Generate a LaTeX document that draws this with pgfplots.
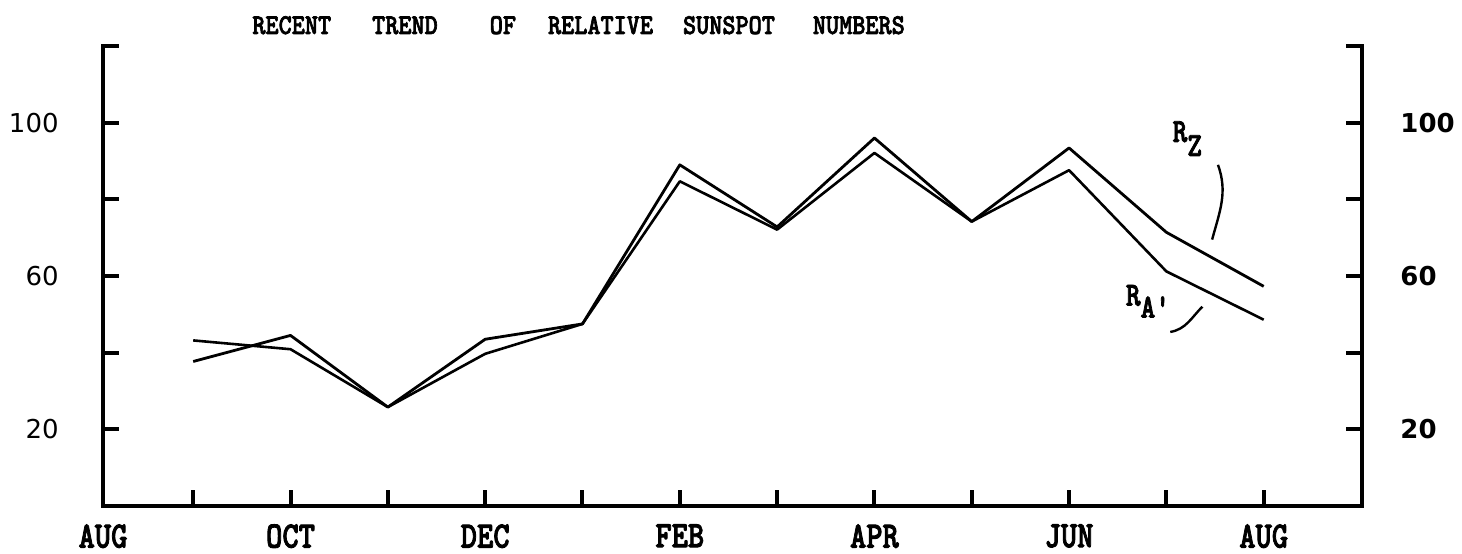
\documentclass[border=0pt]{standalone}
\usepackage{pgfplots}
\pgfplotsset{compat=1.18}
\usepackage{fontspec}
\usepackage{graphicx}
\newfontfamily\dv{DejaVu Sans}
\newfontfamily\twb{lmmonolt10-bold.otf}[FakeBold=2.5]
\newcommand\sy[1]{\scalebox{1}[1.2]{#1}}
\newcommand\ttb{\fontsize{15.5}{18}\twb}
\begin{document}
\begin{tikzpicture}[x=1pt,y=1pt]
\useasboundingbox (0,0) rectangle (731,276.5);
\begin{axis}[
  at={(51.5pt,23.5pt)}, anchor=south west,
  width=629.5pt, height=230pt, scale only axis,
  xmin=0.073, xmax=13.01, ymin=0, ymax=120,
  axis x line*=bottom, axis y line=box,
  x axis line style={-},
  axis line style={line width=2pt, line cap=rect},
  every tick/.style={black, line width=2pt},
  major tick length=8pt,
  tick align=inside,
  xtick={0.073,1,2,3,4,5,6,7,8,9,10,11,12},
  xticklabels={\sy{AUG},,\sy{OCT},,\sy{DEC},,\sy{FEB},,\sy{APR},,\sy{JUN},,\sy{AUG}},
  xticklabel style={font=\ttb, inner sep=0pt, anchor=north, yshift=-9pt},
  ytick={20,40,60,80,100,120},
  yticklabels={20,,60,,100,},
  yticklabel pos=left,
  yticklabel style={font=\fontsize{13}{15}\dv, inner sep=0pt, anchor=east, xshift=-22pt},
  clip=false,
]
\addplot[black, line width=1.4pt, no markers, line join=round] coordinates {
 (1,37.7) (2,44.5) (3,25.8) (4,43.5) (5,47.5) (6,89.0) (7,72.8) (8,96.0) (9,74.2) (10,93.4) (11,71.4) (12,57.3)};
\addplot[black, line width=1.3pt, no markers, line join=round] coordinates {
 (1,43.2) (2,40.9) (3,25.8) (4,39.7) (5,47.5) (6,84.7) (7,72.1) (8,92.1) (9,74.2) (10,87.6) (11,61.2) (12,48.6)};
\node[anchor=base west, inner sep=0pt, font=\fontsize{14}{16}\twb] at (axis cs:11.06,95) {\sy{R}\raisebox{-7pt}{\sy{Z}}};
\node[anchor=base west, inner sep=0pt, font=\fontsize{14}{16}\twb] at (axis cs:10.58,52.3) {\sy{R}\raisebox{-6pt}{\sy{A'}}};
\draw[line width=1.2pt] (axis cs:11.53,89) to[out=-70,in=75] (axis cs:11.47,69.5);
\draw[line width=1.2pt] (axis cs:11.37,52.0) to[out=-135,in=10] (axis cs:11.04,45.4);
\end{axis}
\begin{axis}[
  at={(51.5pt,23.5pt)}, anchor=south west,
  width=629.5pt, height=230pt, scale only axis,
  xmin=0.073, xmax=13.01, ymin=0, ymax=120,
  hide x axis,
  axis y line*=right,
  y axis line style={draw=none},
  ytick style={draw=none},
  ytick={20,60,100},
  yticklabels={20,60,100},
  yticklabel pos=right,
  yticklabel style={font=\fontsize{13}{15}\dv\bfseries, inner sep=0pt, anchor=west, xshift=19pt},
]
\end{axis}
\node[anchor=base west, inner sep=0pt, font=\fontsize{12.5}{14}\twb] at (126,259.5)
 {\scalebox{1}[1.15]{RECENT\hspace{20.5pt}TREND\hspace{26pt}OF\hspace{16pt}RELATIVE\hspace{15pt}SUNSPOT\hspace{19pt}NUMBERS}};
\end{tikzpicture}
\end{document}
